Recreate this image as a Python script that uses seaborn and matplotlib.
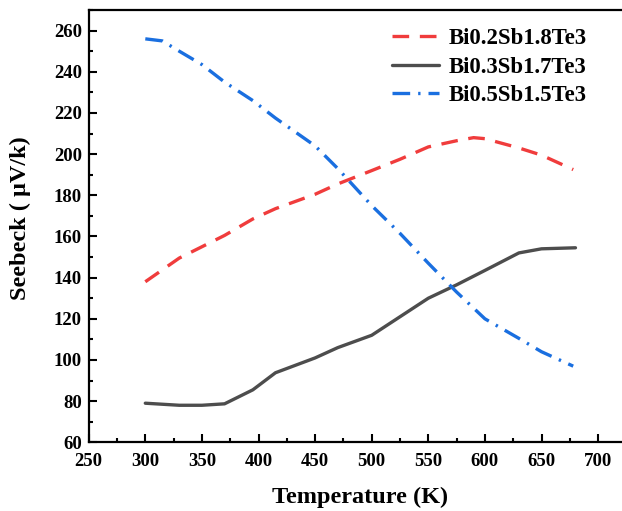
import pandas as pd
import matplotlib
matplotlib.use("Agg")
import matplotlib.pyplot as plt
import seaborn as sns
from matplotlib.ticker import MultipleLocator

# values
temp_a = [300, 330, 350, 370, 395, 415, 450, 470, 500, 525, 550, 575, 590, 600, 630, 650, 678]
seebeck_a = [138, 149.5, 155, 160.5, 168.5, 173.5, 180.5, 185.5, 192, 197.5, 203.5, 206.5, 208, 207.5, 203, 199.5, 192.5]

temp_b = [300, 330, 350, 370, 395, 415, 450, 470, 500, 525, 550, 575, 600, 630, 650, 680]
seebeck_b = [79, 78, 78, 78.7, 85.5, 93.8, 101, 106, 112, 121, 130, 136.5, 143.5, 152, 154, 154.5]

temp_c = [300, 315, 330, 350, 370, 395, 415, 450, 470, 500, 525, 550, 575, 600, 630, 650, 678]
seebeck_c = [256, 255, 250, 243.5, 235, 226, 217.5, 204, 193, 175, 161.5, 147, 133, 120, 110.5, 104, 97]

labels = ["Bi0.2Sb1.8Te3", "Bi0.3Sb1.7Te3", "Bi0.5Sb1.5Te3"]

sns.set_style("ticks")
plt.rcParams['font.family'] = ['Liberation Serif', 'DejaVu Serif']
plt.rcParams['font.weight'] = 'bold'
for k in ['text.color', 'axes.labelcolor', 'xtick.color', 'ytick.color', 'axes.edgecolor']:
    plt.rcParams[k] = 'black'

fig = plt.figure(figsize=(6.22, 5.11), dpi=100)
ax = fig.add_axes([0.1426, 0.1344, 0.8645, 0.846])

sns.lineplot(x=temp_a, y=seebeck_a, ax=ax, color='#F03C3C', lw=2.4,
             label=labels[0])
sns.lineplot(x=temp_b, y=seebeck_b, ax=ax, color='#4D4D4D', lw=2.4,
             label=labels[1])
sns.lineplot(x=temp_c, y=seebeck_c, ax=ax, color='#1A6FE0', lw=2.4,
             label=labels[2])
red_dash = [5, 3.2]
blue_dash = [5.3, 2.4, 0.7, 2.4]
ax.lines[0].set_dashes(red_dash)
ax.lines[2].set_dashes(blue_dash)

ax.set_xlim(250, 725)
ax.set_ylim(60, 270)
ax.xaxis.set_major_locator(MultipleLocator(50))
ax.xaxis.set_minor_locator(MultipleLocator(25))
ax.yaxis.set_major_locator(MultipleLocator(20))
ax.yaxis.set_minor_locator(MultipleLocator(10))
ax.tick_params(which='both', direction='in', width=1.5, labelsize=13.5,
               color='black', labelcolor='black')
ax.tick_params(axis='x', pad=8)
ax.tick_params(axis='y', pad=5)
ax.tick_params(which='major', length=6)
ax.tick_params(which='minor', length=3)
for lab in ax.get_xticklabels() + ax.get_yticklabels():
    lab.set_fontweight('bold')
for s in ax.spines.values():
    s.set_linewidth(1.6)
    s.set_color('black')

ax.set_xlabel('Temperature (K)', fontsize=17.5, fontweight='bold')
ax.set_ylabel('Seebeck ( μV/k)', fontsize=17.5, fontweight='bold')
ax.xaxis.set_label_coords(0.5055, -0.103)
ax.yaxis.set_label_coords(-0.107, 0.519)

leg = ax.legend(loc='upper right', bbox_to_anchor=(0.965, 1.005), frameon=False,
                prop={'size': 16.4, 'weight': 'bold'}, handlelength=2.05,
                handletextpad=0.45, labelspacing=0.32)
for line, d in zip(leg.get_lines(), [red_dash, None, blue_dash]):
    if d:
        line.set_dashes(d)

fig.savefig('out.png', dpi=100)
